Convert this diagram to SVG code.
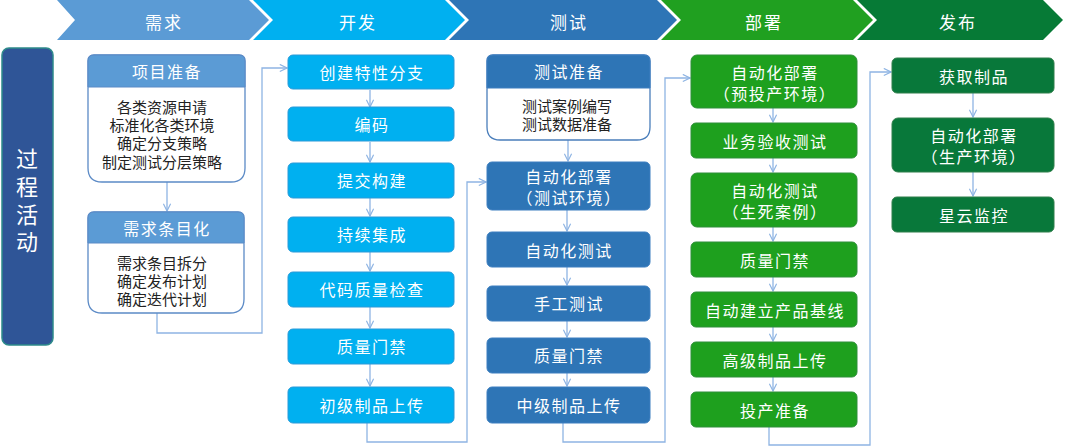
<svg xmlns="http://www.w3.org/2000/svg" width="1080" height="448" viewBox="0 0 1080 448">
<defs>
<marker id="arr" viewBox="0 0 10 10" refX="9" refY="5" markerWidth="9" markerHeight="9" markerUnits="userSpaceOnUse" orient="auto">
<path d="M1,1 L9,5 L1,9" fill="none" stroke="#8eb4e3" stroke-width="1.3"/>
</marker>
</defs>
<style>
text{font-family:"Noto Sans CJK SC","Liberation Sans",sans-serif;}
.hd{fill:#fff;font-size:17px;letter-spacing:2px;text-anchor:middle;dominant-baseline:central;}
.nt{fill:#fff;font-size:16px;letter-spacing:1.5px;text-anchor:middle;dominant-baseline:central;}
.bt{fill:#222;font-size:15px;text-anchor:middle;dominant-baseline:central;}
.vt{fill:#fff;font-size:22px;text-anchor:middle;dominant-baseline:central;}
.c{fill:none;stroke:#8eb4e3;stroke-width:1.3;}
.dev{fill:#00b0f0;stroke:#2a9ad8;stroke-width:1;}
.tst{fill:#2e75b6;stroke:#3d7fc0;stroke-width:1;}
.dep{fill:#1ea01e;stroke:#2f8f3a;stroke-width:1;}
.rel{fill:#08783a;stroke:#2f7f4a;stroke-width:1;}
</style>
<g id="header">
<polygon points="57,0 249,0 269,20 249,40 57,40 75,20" fill="#5b9bd5"/>
<polygon points="253,0 445,0 465,20 445,40 253,40 273,20" fill="#00b0f0"/>
<polygon points="449,0 657,0 677,20 657,40 449,40 469,20" fill="#2e75b6"/>
<polygon points="661,0 853,0 873,20 853,40 661,40 681,20" fill="#20a020"/>
<polygon points="857,0 1043,0 1063,20 1043,40 857,40 877,20" fill="#067a36"/>
<text class="hd" x="164" y="21">需求</text>
<text class="hd" x="358" y="21">开发</text>
<text class="hd" x="569" y="21">测试</text>
<text class="hd" x="764" y="21">部署</text>
<text class="hd" x="958" y="21">发布</text>
</g>
<g id="side">
<rect x="2" y="48" width="51" height="297" rx="7" fill="#2f5597" stroke="#2e8b8b" stroke-width="1.5"/>
<text class="vt"><tspan x="27" y="157">过</tspan><tspan x="27" y="185">程</tspan><tspan x="27" y="213">活</tspan><tspan x="27" y="240">动</tspan></text>
</g>
<g id="connectors">
<line class="c" x1="167" y1="182" x2="167" y2="211" marker-end="url(#arr)"/>
<path class="c" d="M157,313 V333 H262 V68 H287" marker-end="url(#arr)"/>
<line class="c" x1="370" y1="90" x2="370" y2="107" marker-end="url(#arr)"/>
<line class="c" x1="370" y1="142" x2="370" y2="162" marker-end="url(#arr)"/>
<line class="c" x1="370" y1="198" x2="370" y2="216" marker-end="url(#arr)"/>
<line class="c" x1="370" y1="252" x2="370" y2="271" marker-end="url(#arr)"/>
<line class="c" x1="370" y1="307" x2="370" y2="328" marker-end="url(#arr)"/>
<line class="c" x1="370" y1="364" x2="370" y2="386" marker-end="url(#arr)"/>
<path class="c" d="M367,423 V442 H467 V182 H486" marker-end="url(#arr)"/>
<line class="c" x1="568" y1="140" x2="568" y2="161" marker-end="url(#arr)"/>
<line class="c" x1="567" y1="210" x2="567" y2="231" marker-end="url(#arr)"/>
<line class="c" x1="567" y1="267" x2="567" y2="285" marker-end="url(#arr)"/>
<line class="c" x1="567" y1="321" x2="567" y2="337" marker-end="url(#arr)"/>
<line class="c" x1="567" y1="373" x2="567" y2="386" marker-end="url(#arr)"/>
<path class="c" d="M563,423 V442 H665 V78 H690" marker-end="url(#arr)"/>
<line class="c" x1="773" y1="108" x2="773" y2="122" marker-end="url(#arr)"/>
<line class="c" x1="773" y1="158" x2="773" y2="172" marker-end="url(#arr)"/>
<line class="c" x1="773" y1="227" x2="773" y2="241" marker-end="url(#arr)"/>
<line class="c" x1="773" y1="277" x2="773" y2="291" marker-end="url(#arr)"/>
<line class="c" x1="773" y1="327" x2="773" y2="341" marker-end="url(#arr)"/>
<line class="c" x1="773" y1="377" x2="773" y2="391" marker-end="url(#arr)"/>
<path class="c" d="M769,427 V445 H870 V72 H891" marker-end="url(#arr)"/>
<line class="c" x1="973" y1="93" x2="973" y2="117" marker-end="url(#arr)"/>
<line class="c" x1="973" y1="172" x2="973" y2="196" marker-end="url(#arr)"/>
</g>
<g id="n-xmzb">
<path d="M94,55 H239 Q245,55 245,61 V168 Q245,182 231,182 H102 Q88,182 88,168 V61 Q88,55 94,55 Z" fill="#fff" stroke="#5b8ac6" stroke-width="1.3"/>
<path d="M94,55 H239 Q245,55 245,61 V87 H88 V61 Q88,55 94,55 Z" fill="#5b9bd5" stroke="#5b8ac6" stroke-width="1"/>
<text class="nt" x="167" y="71">项目准备</text>
<text class="bt"><tspan x="162" y="106">各类资源申请</tspan><tspan x="162" y="124">标准化各类环境</tspan><tspan x="162" y="142">确定分支策略</tspan><tspan x="162" y="161">制定测试分层策略</tspan></text>
</g>
<g id="n-xqtmh">
<path d="M94,212 H238 Q244,212 244,218 V299 Q244,313 230,313 H102 Q88,313 88,299 V218 Q88,212 94,212 Z" fill="#fff" stroke="#5b8ac6" stroke-width="1.3"/>
<path d="M94,212 H238 Q244,212 244,218 V243 H88 V218 Q88,212 94,212 Z" fill="#5b9bd5" stroke="#5b8ac6" stroke-width="1"/>
<text class="nt" x="167" y="228">需求条目化</text>
<text class="bt"><tspan x="162" y="262">需求条目拆分</tspan><tspan x="162" y="280">确定发布计划</tspan><tspan x="162" y="298">确定迭代计划</tspan></text>
</g>
<g id="n-cjtxfz"><rect class="dev" x="288" y="55" width="166" height="34" rx="5"/><text class="nt" x="372" y="72">创建特性分支</text></g>
<g id="n-bm"><rect class="dev" x="288" y="107" width="166" height="34" rx="5"/><text class="nt" x="372" y="124">编码</text></g>
<g id="n-tjgj"><rect class="dev" x="288" y="163" width="166" height="35" rx="5"/><text class="nt" x="372" y="180">提交构建</text></g>
<g id="n-cxjc"><rect class="dev" x="288" y="217" width="166" height="35" rx="5"/><text class="nt" x="372" y="234">持续集成</text></g>
<g id="n-dmzljc"><rect class="dev" x="288" y="272" width="166" height="35" rx="5"/><text class="nt" x="372" y="289">代码质量检查</text></g>
<g id="n-zlmj1"><rect class="dev" x="288" y="329" width="166" height="35" rx="5"/><text class="nt" x="372" y="346">质量门禁</text></g>
<g id="n-cjzpsc"><rect class="dev" x="288" y="387" width="166" height="36" rx="5"/><text class="nt" x="372" y="405">初级制品上传</text></g>
<g id="n-cszb">
<path d="M493,55 H644 Q650,55 650,61 V127 Q650,140 637,140 H500 Q487,140 487,127 V61 Q487,55 493,55 Z" fill="#fff" stroke="#4a7ebb" stroke-width="1.3"/>
<path d="M493,55 H644 Q650,55 650,61 V88 H487 V61 Q487,55 493,55 Z" fill="#2e75b6" stroke="#3d7fc0" stroke-width="1"/>
<text class="nt" x="569" y="71">测试准备</text>
<text class="bt"><tspan x="567" y="105">测试案例编写</tspan><tspan x="567" y="123">测试数据准备</tspan></text>
</g>
<g id="n-zdhbs-cs"><rect class="tst" x="487" y="162" width="163" height="48" rx="5"/><text class="nt"><tspan x="569" y="176">自动化部署</tspan><tspan x="569" y="197">（测试环境）</tspan></text></g>
<g id="n-zdhcs1"><rect class="tst" x="487" y="232" width="163" height="35" rx="5"/><text class="nt" x="569" y="250">自动化测试</text></g>
<g id="n-sgcs"><rect class="tst" x="487" y="286" width="163" height="35" rx="5"/><text class="nt" x="569" y="303">手工测试</text></g>
<g id="n-zlmj2"><rect class="tst" x="487" y="338" width="163" height="35" rx="5"/><text class="nt" x="569" y="355">质量门禁</text></g>
<g id="n-zjzpsc"><rect class="tst" x="487" y="387" width="163" height="36" rx="5"/><text class="nt" x="569" y="405">中级制品上传</text></g>
<g id="n-zdhbs-ytc"><rect class="dep" x="691" y="55" width="166" height="53" rx="6"/><text class="nt"><tspan x="775" y="72">自动化部署</tspan><tspan x="775" y="93">（预投产环境）</tspan></text></g>
<g id="n-ywyscs"><rect class="dep" x="691" y="123" width="166" height="35" rx="5"/><text class="nt" x="775" y="141">业务验收测试</text></g>
<g id="n-zdhcs2"><rect class="dep" x="691" y="173" width="166" height="54" rx="6"/><text class="nt"><tspan x="775" y="190">自动化测试</tspan><tspan x="775" y="211">（生死案例）</tspan></text></g>
<g id="n-zlmj3"><rect class="dep" x="691" y="242" width="166" height="35" rx="5"/><text class="nt" x="775" y="260">质量门禁</text></g>
<g id="n-zdjlcpjx"><rect class="dep" x="691" y="292" width="166" height="35" rx="5"/><text class="nt" x="775" y="310">自动建立产品基线</text></g>
<g id="n-gjzpsc"><rect class="dep" x="691" y="342" width="166" height="35" rx="5"/><text class="nt" x="775" y="360">高级制品上传</text></g>
<g id="n-tczb"><rect class="dep" x="691" y="392" width="166" height="35" rx="5"/><text class="nt" x="775" y="410">投产准备</text></g>
<g id="n-hqzp"><rect class="rel" x="892" y="58" width="162" height="35" rx="5"/><text class="nt" x="974" y="76">获取制品</text></g>
<g id="n-zdhbs-sc"><rect class="rel" x="892" y="118" width="162" height="54" rx="6"/><text class="nt"><tspan x="974" y="135">自动化部署</tspan><tspan x="974" y="156">（生产环境）</tspan></text></g>
<g id="n-xyjk"><rect class="rel" x="892" y="197" width="162" height="35" rx="5"/><text class="nt" x="974" y="215">星云监控</text></g>
</svg>
